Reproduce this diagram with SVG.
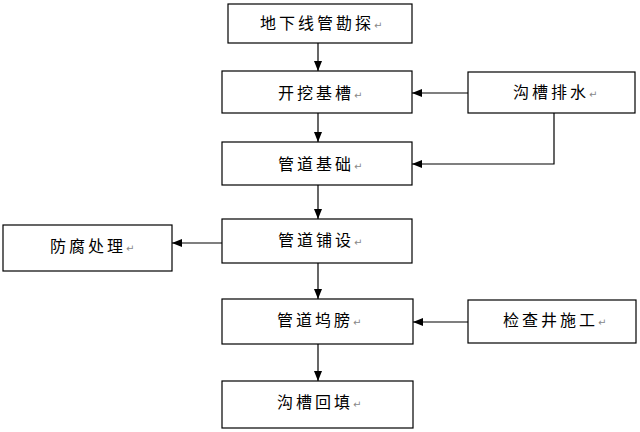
<svg xmlns="http://www.w3.org/2000/svg" width="640" height="432" viewBox="0 0 640 432">
<style>
.box{fill:#fff;stroke:#000;stroke-width:1.2}
.t{font-family:"Noto Sans CJK SC","Noto Sans",sans-serif;font-size:16px;letter-spacing:3px;fill:#000}
.m{font-family:"DejaVu Sans",sans-serif;font-size:10px;fill:#888;letter-spacing:0}
.c{stroke:#000;stroke-width:1.2;fill:none}
</style>
<defs>
<marker id="ah" markerWidth="10" markerHeight="8" refX="10" refY="4" orient="auto" markerUnits="userSpaceOnUse">
<path d="M0,0 L10,4 L0,8 Z" fill="#000"/>
</marker>
</defs>
<rect width="640" height="432" fill="#fff"/>
<g id="n1"><rect class="box" x="228" y="4" width="184" height="39"/><text class="t" x="260" y="29">地下线管勘探<tspan class="m">↵</tspan></text></g>
<g id="n2"><rect class="box" x="222" y="71" width="190" height="42"/><text class="t" x="278" y="99">开挖基槽<tspan class="m">↵</tspan></text></g>
<g id="n3"><rect class="box" x="468" y="72" width="167" height="41"/><text class="t" x="513" y="98">沟槽排水<tspan class="m">↵</tspan></text></g>
<g id="n4"><rect class="box" x="222" y="142" width="190" height="43"/><text class="t" x="278" y="170">管道基础<tspan class="m">↵</tspan></text></g>
<g id="n5"><rect class="box" x="222" y="219" width="190" height="44"/><text class="t" x="278" y="246">管道铺设<tspan class="m">↵</tspan></text></g>
<g id="n6"><rect class="box" x="3" y="225" width="169" height="46"/><text class="t" x="50" y="252">防腐处理<tspan class="m">↵</tspan></text></g>
<g id="n7"><rect class="box" x="222" y="299" width="191" height="45"/><text class="t" x="277" y="326">管道坞膀<tspan class="m">↵</tspan></text></g>
<g id="n8"><rect class="box" x="468" y="300" width="168" height="43"/><text class="t" x="503" y="326">检查井施工<tspan class="m">↵</tspan></text></g>
<g id="n9"><rect class="box" x="222" y="381" width="191" height="47"/><text class="t" x="277" y="408">沟槽回填<tspan class="m">↵</tspan></text></g>
<g id="connectors">
<line class="c" x1="318" y1="43" x2="318" y2="71" marker-end="url(#ah)"/>
<line class="c" x1="318" y1="113" x2="318" y2="142" marker-end="url(#ah)"/>
<line class="c" x1="318" y1="185" x2="318" y2="219" marker-end="url(#ah)"/>
<line class="c" x1="318" y1="263" x2="318" y2="299" marker-end="url(#ah)"/>
<line class="c" x1="318" y1="344" x2="318" y2="381" marker-end="url(#ah)"/>
<line class="c" x1="468" y1="93" x2="412" y2="93" marker-end="url(#ah)"/>
<polyline class="c" points="554,113 554,164 412,164" marker-end="url(#ah)"/>
<line class="c" x1="222" y1="243" x2="172" y2="243" marker-end="url(#ah)"/>
<line class="c" x1="468" y1="322" x2="413" y2="322" marker-end="url(#ah)"/>
</g>
</svg>
